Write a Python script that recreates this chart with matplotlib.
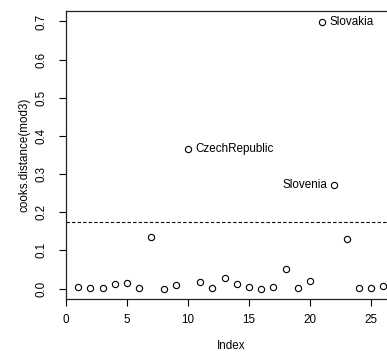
import numpy as np
import matplotlib
matplotlib.use('Agg')
import matplotlib.pyplot as plt

plt.rcParams['font.family'] = ['Liberation Sans', 'DejaVu Sans']

index = list(range(1, 27))
cooks = [0.003, 0.001, 0.001, 0.011, 0.015, 0.001, 0.136, 0.000, 0.008, 0.366,
         0.016, 0.001, 0.028, 0.011, 0.005, 0.000, 0.004, 0.051, 0.001, 0.020,
         0.699, 0.271, 0.130, 0.001, 0.002, 0.007]
cutoff = 0.175

# labelled points: index, name, side
labelled = [(10, 'CzechRepublic', 'right'), (21, 'Slovakia', 'right'),
            (22, 'Slovenia', 'left')]

W, H = 387, 352
fig = plt.figure(figsize=(W / 100, H / 100), dpi=100)
ax = fig.add_axes([66 / W, (H - 299) / H, (395.4 - 66) / W, (299 - 10.5) / H])

fs = 8.4
ax.plot(index, cooks, 'o', mfc='none', mec='black', ms=4.5, mew=0.8)
ax.axhline(cutoff, color='black', ls=(0, (3, 2)), lw=0.8)

for i, name, side in labelled:
    v = cooks[i - 1]
    if side == 'right':
        ax.annotate(name, (i, v), xytext=(5, 0), textcoords='offset points',
                    ha='left', va='center', fontsize=fs)
    else:
        ax.annotate(name, (i, v), xytext=(-5, 0), textcoords='offset points',
                    ha='right', va='center', fontsize=fs)

ax.set_xlim(0, 27)
ax.set_ylim(-0.0275, 0.7288)
ax.set_xticks([0, 5, 10, 15, 20, 25])
ax.set_yticks(np.round(np.arange(0, 0.71, 0.1), 1))
ax.set_yticklabels([f'{t:.1f}' for t in np.arange(0, 0.71, 0.1)],
                   rotation=90, va='center')
ax.tick_params(labelsize=fs, length=5, width=0.8)
ax.tick_params(axis='y', pad=8)
ax.tick_params(axis='x', pad=6)
for s in ax.spines.values():
    s.set_linewidth(0.9)
    s.set_color('#222222')

ax.set_xlabel('Index', fontsize=fs, labelpad=10)
ax.set_ylabel('cooks.distance(mod3)', fontsize=fs, labelpad=4)

fig.savefig('out.png', dpi=100)
